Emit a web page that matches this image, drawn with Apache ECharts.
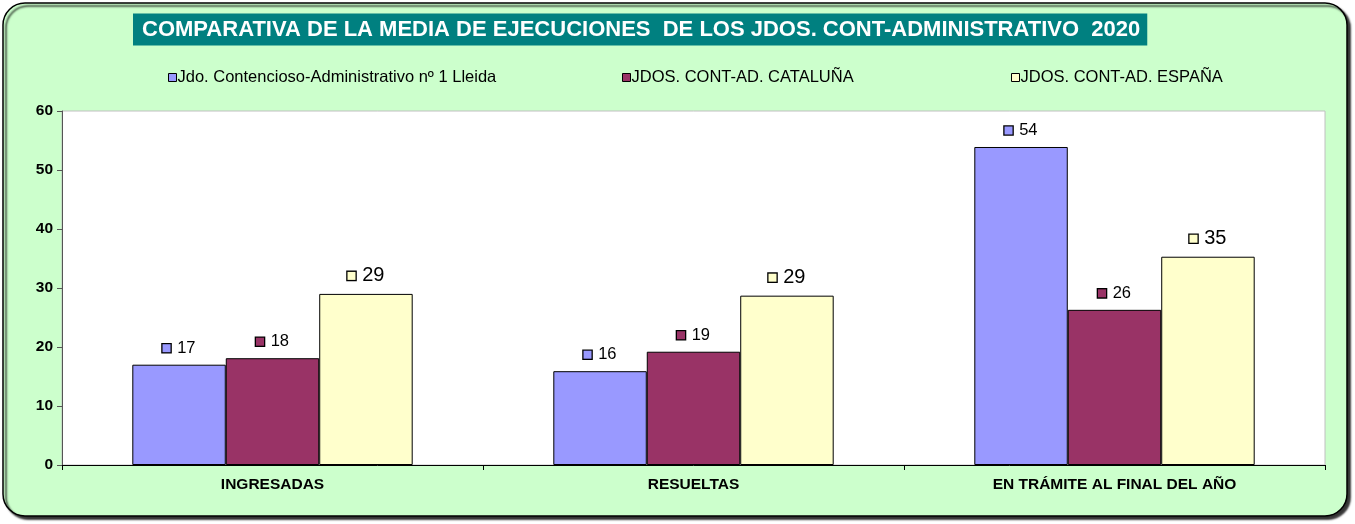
<!DOCTYPE html>
<html>
<head>
<meta charset="utf-8">
<script src="https://cdn.jsdelivr.net/npm/echarts@6/dist/echarts.min.js"></script>
<style>
html,body{margin:0;padding:0;background:#fff;}
#chart{width:1355px;height:524px;}
</style>
</head>
<body>
<div id="chart"></div>
<script>
const titleText = 'COMPARATIVA DE LA MEDIA DE EJECUCIONES  DE LOS JDOS. CONT-ADMINISTRATIVO  2020';
const categories = ['INGRESADAS', 'RESUELTAS', 'EN TRÁMITE AL FINAL DEL AÑO'];
const seriesNames = ['Jdo. Contencioso-Administrativo nº 1 Lleida', 'JDOS. CONT-AD. CATALUÑA', 'JDOS. CONT-AD. ESPAÑA'];
const lleida = [17.0, 15.9, 53.9];
const cataluna = [18.1, 19.2, 26.3];
const espana = [29.0, 28.7, 35.3];
const yTicks = [0, 10, 20, 30, 40, 50, 60];
const colors = ['#9999FF', '#993366', '#FFFFCC'];

const chart = echarts.init(document.getElementById('chart'), null, {renderer: 'canvas'});
const FONT = 'Liberation Sans, Arial, sans-serif';

function mkSeries(name, data, color, fs) {
  return {
    name: name,
    type: 'bar',
    data: data,
    barWidth: '22.2%',
    barGap: '0%',
    itemStyle: {color: color, borderColor: '#000', borderWidth: 1},
    label: {
      show: true,
      position: 'top',
      distance: 8,
      formatter: function (p) { return '{sq|}  {v|' + Math.round(p.value) + '}'; },
      rich: {
        sq: {width: 8, height: 8, backgroundColor: color, borderColor: '#000', borderWidth: 1.3},
        v: {fontSize: fs, color: '#000', fontFamily: FONT}
      }
    },
    animation: false
  };
}

const option = {
  backgroundColor: '#fff',
  animation: false,
  graphic: [
    {type: 'rect', z: -10, shape: {x: 3, y: 3, width: 1344, height: 513, r: 22},
     style: {fill: '#CCFFCC', stroke: '#000', lineWidth: 1.5, shadowColor: 'rgba(0,0,0,0.8)', shadowOffsetX: 3, shadowOffsetY: 3, shadowBlur: 2}},
    {type: 'rect', z: -5, shape: {x: 62, y: 111, width: 1263, height: 354},
     style: {fill: '#fff', stroke: '#c0c0c0', lineWidth: 1}}
  ],
  title: {
    text: titleText,
    left: 133, top: 14,
    backgroundColor: '#008080',
    padding: [5, 7, 5, 9],
    textStyle: {color: '#fff', fontWeight: 'bold', fontSize: 22, fontFamily: FONT, lineHeight: 21}
  },
  legend: [
    {data: [seriesNames[0]], left: 163, top: 64},
    {data: [seriesNames[1]], left: 617, top: 64},
    {data: [seriesNames[2]], left: 1006, top: 64}
  ].map(l => Object.assign(l, {
    icon: 'rect', itemWidth: 8, itemHeight: 8, itemGap: 10,
    itemStyle: {borderColor: '#000', borderWidth: 1},
    textStyle: {fontSize: 16.5, fontFamily: FONT, color: '#000', padding: [0, 0, 0, -4]}
  })),
  grid: {left: 62, right: 30, top: 111, bottom: 59, containLabel: false},
  xAxis: {
    type: 'category',
    data: categories,
    axisLine: {lineStyle: {color: '#000', width: 1}},
    axisTick: {show: true, length: 5, lineStyle: {color: '#000'}},
    axisLabel: {fontWeight: 'bold', fontSize: 15.5, color: '#000', fontFamily: FONT, margin: 12}
  },
  yAxis: {
    type: 'value',
    min: 0, max: 60, interval: 10,
    axisLine: {show: true, lineStyle: {color: '#555', width: 1}},
    axisTick: {show: true, length: 5, lineStyle: {color: '#555'}},
    splitLine: {show: false},
    axisLabel: {fontWeight: 'bold', fontSize: 15.5, color: '#000', fontFamily: FONT, margin: 9,
      formatter: function (v) { return yTicks.indexOf(v) >= 0 ? String(v) : ''; }}
  },
  series: [
    mkSeries(seriesNames[0], lleida, colors[0], 16.5),
    mkSeries(seriesNames[1], cataluna, colors[1], 16.5),
    mkSeries(seriesNames[2], espana, colors[2], 20)
  ]
};
chart.setOption(option);
</script>
</body>
</html>
